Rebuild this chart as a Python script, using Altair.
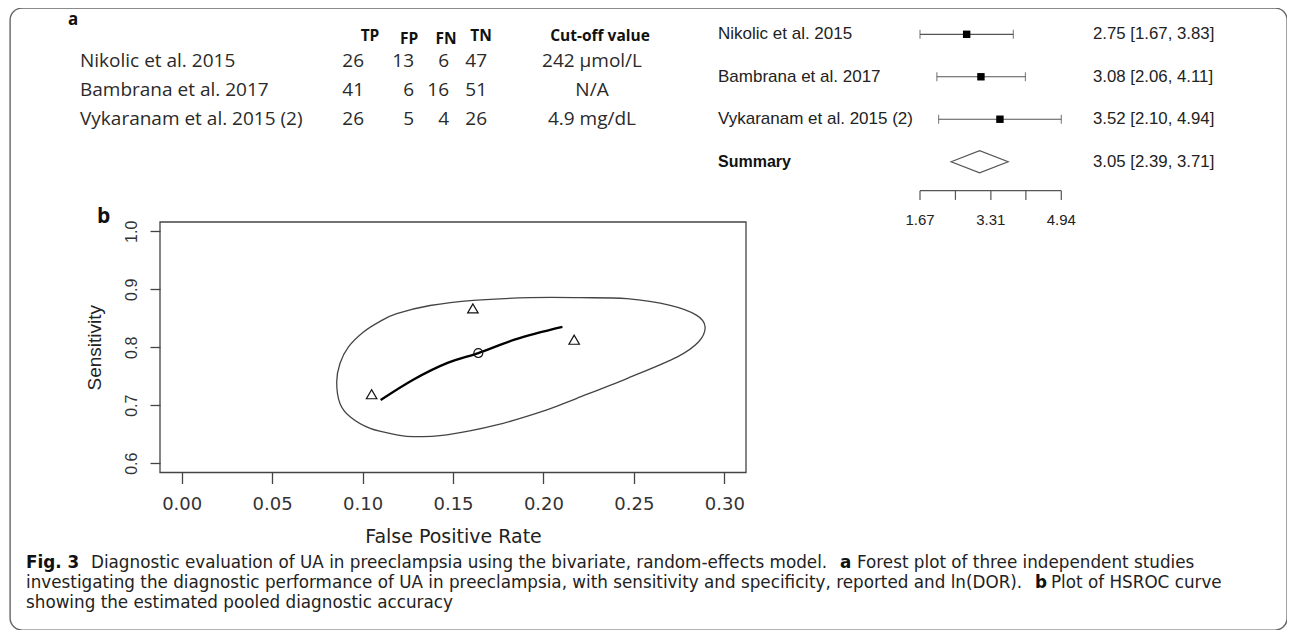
import altair as alt
import pandas as pd

# ---------------- data ----------------
studies = ["Nikolic et al. 2015", "Bambrana et al. 2017", "Vykaranam et al. 2015 (2)"]
tp = [26, 41, 26]
fp = [13, 6, 5]
fn = [6, 16, 4]
tn = [47, 51, 26]
cutoff = ["242 µmol/L", "N/A", "4.9 mg/dL"]

ln_dor = [2.75, 3.08, 3.52]
ln_dor_lo = [1.67, 2.06, 2.10]
ln_dor_hi = [3.83, 4.11, 4.94]
summary_est, summary_lo, summary_hi = 3.05, 2.39, 3.71
forest_ticks = [1.67, 2.49, 3.31, 4.12, 4.94]
forest_tick_labels = ["1.67", "", "3.31", "", "4.94"]

fpr_obs = [0.217, 0.105, 0.161]
sens_obs = [0.813, 0.719, 0.867]
summary_fpr, summary_sens = 0.164, 0.790
curve_fpr = [0.110, 0.128, 0.147, 0.164, 0.184, 0.2105]
curve_sens = [0.709, 0.744, 0.773, 0.790, 0.813, 0.835]
region_fpr = [0.0857, 0.0875, 0.0922, 0.1005, 0.1097, 0.1189, 0.1373, 0.1613, 0.1926,
              0.2203, 0.2461, 0.2701, 0.2848, 0.2894, 0.2857, 0.2738, 0.2461, 0.2185,
              0.2019, 0.1742, 0.1466, 0.1281, 0.1189, 0.1042, 0.0931, 0.0875]
region_sens = [0.740, 0.772, 0.8005, 0.8263, 0.8447, 0.858, 0.872, 0.881, 0.8855,
               0.8855, 0.8837, 0.8722, 0.855, 0.835, 0.809, 0.783, 0.746, 0.712,
               0.692, 0.666, 0.649, 0.6457, 0.649, 0.660, 0.680, 0.703]
x_ticks = [0.00, 0.05, 0.10, 0.15, 0.20, 0.25, 0.30]
y_ticks = [0.6, 0.7, 0.8, 0.9, 1.0]
x_lim = [-0.012, 0.312]
y_lim = [0.584, 1.016]

# ---------------- layout ----------------
OX, OY = 10, 8
W, H = 1277, 622
R_FONT = "Liberation Sans"
R_WIDE = "DejaVu Sans"
DOC_FONT = "Open Sans"
CAP_FONT = "DejaVu Sans"


def px(v):
    return v - OX


def py(v):
    return v - OY


def label(text, x, y, size, font=DOC_FONT, weight="normal", align="left", color="#222", angle=0):
    return alt.Chart(pd.DataFrame({"t": [text]})).mark_text(
        align=align, baseline="middle", font=font, fontSize=size, fontWeight=weight,
        color=color, angle=angle
    ).encode(text="t:N", x=alt.value(px(x)), y=alt.value(py(y)))


layers = []

# ---------- panel a: table ----------
layers.append(label("a", 68, 20, 17, weight="bold", color="#111"))
for h, xc, yc in [("TP", 370, 36), ("FP", 409, 39), ("FN", 446, 39), ("TN", 481, 36), ("Cut-off value", 600, 36)]:
    layers.append(label(h, xc, yc, 15.5, weight="bold", align="center", color="#111"))

tab = pd.DataFrame({"study": studies, "row": [1, 2, 3], "TP": tp, "FP": fp, "FN": fn, "TN": tn, "cut": cutoff})
ty = alt.Scale(domain=[1, 3], range=[py(61), py(119)], nice=False, zero=False)
base_tab = alt.Chart(tab)
TXT = dict(baseline="middle", font=DOC_FONT, fontSize=19, color="#2a2a2a")
layers.append(base_tab.mark_text(align="left", **TXT).encode(
    text="study:N", x=alt.value(px(80)), y=alt.Y("row:Q", scale=ty, axis=None)))
for col, xr in [("TP", 364), ("FP", 414), ("FN", 449), ("TN", 487)]:
    layers.append(base_tab.mark_text(align="right", **TXT).encode(
        text=f"{col}:N", x=alt.value(px(xr)), y=alt.Y("row:Q", scale=ty, axis=None)))
layers.append(base_tab.mark_text(align="center", **TXT).encode(
    text="cut:N", x=alt.value(px(592)), y=alt.Y("row:Q", scale=ty, axis=None)))

# ---------- forest plot ----------
fx = alt.Scale(domain=[1.67, 4.94], range=[px(920), px(1061.3)], nice=False, zero=False)
fy = alt.Scale(domain=[1, 4], range=[py(34.3), py(161.7)], nice=False, zero=False)
forest = pd.DataFrame({
    "name": studies, "row": [1, 2, 3], "est": ln_dor, "lo": ln_dor_lo, "hi": ln_dor_hi,
})
forest["txt"] = [f"{e:.2f} [{l:.2f}, {h:.2f}]" for e, l, h in zip(ln_dor, ln_dor_lo, ln_dor_hi)]
summ = pd.DataFrame({"name": ["Summary"], "row": [4],
                     "txt": [f"{summary_est:.2f} [{summary_lo:.2f}, {summary_hi:.2f}]"]})
fb = alt.Chart(forest)
X_F = lambda f: alt.X(f, scale=fx, axis=None)
Y_F = alt.Y("row:Q", scale=fy, axis=None)

layers.append(fb.mark_text(align="left", baseline="middle", font=R_FONT, fontSize=17, color="#222").encode(
    text="name:N", x=alt.value(px(718)), y=Y_F))
layers.append(alt.Chart(summ).mark_text(align="left", baseline="middle", font=R_FONT, fontSize=16,
                                        fontWeight="bold", color="#111").encode(
    text="name:N", x=alt.value(px(718)), y=Y_F))
VAL = dict(align="left", baseline="middle", font=R_FONT, fontSize=16.8, color="#222")
layers.append(fb.mark_text(**VAL).encode(text="txt:N", x=alt.value(px(1093)), y=Y_F))
layers.append(alt.Chart(summ).mark_text(**VAL).encode(text="txt:N", x=alt.value(px(1093)), y=Y_F))
layers.append(fb.mark_rule(color="#555", strokeWidth=1.2).encode(x=X_F("lo:Q"), x2="hi:Q", y=Y_F))
layers.append(fb.mark_tick(orient="vertical", size=9, thickness=1.2, color="#555").encode(x=X_F("lo:Q"), y=Y_F))
layers.append(fb.mark_tick(orient="vertical", size=9, thickness=1.2, color="#555").encode(x=X_F("hi:Q"), y=Y_F))
layers.append(fb.mark_square(size=55, color="#000", opacity=1).encode(x=X_F("est:Q"), y=Y_F))

diamond_half = 0.26
diamond = pd.DataFrame({
    "x": [summary_lo, summary_est, summary_hi, summary_est],
    "row": [4, 4 - diamond_half, 4, 4 + diamond_half],
    "o": [0, 1, 2, 3],
})
layers.append(alt.Chart(diamond).mark_line(color="#555", strokeWidth=1.2, interpolate="linear-closed").encode(
    x=X_F("x:Q"), y=Y_F, order="o:Q"))

axis_row, tick_row, lab_row = 4.683, 4.90, 5.37
fax = pd.DataFrame({"x": forest_ticks, "lab": forest_tick_labels})
layers.append(alt.Chart(pd.DataFrame({"a": [forest_ticks[0]], "b": [forest_ticks[-1]], "row": [axis_row]}))
              .mark_rule(color="#555", strokeWidth=1.2).encode(x=X_F("a:Q"), x2="b:Q", y=Y_F))
layers.append(alt.Chart(fax.assign(r1=axis_row, r2=tick_row)).mark_rule(color="#555", strokeWidth=1.2).encode(
    x=X_F("x:Q"), y=alt.Y("r1:Q", scale=fy, axis=None), y2="r2:Q"))
layers.append(alt.Chart(fax.assign(r=lab_row)).mark_text(align="center", baseline="middle", font=R_FONT,
                                                          fontSize=15, color="#222").encode(
    x=X_F("x:Q"), y=alt.Y("r:Q", scale=fy, axis=None), text="lab:N"))

# ---------- panel b: HSROC ----------
hx = alt.Scale(domain=x_lim, range=[px(160), px(746)], nice=False, zero=False)
hy = alt.Scale(domain=y_lim, range=[py(472.5), py(222)], nice=False, zero=False)
XH = lambda f: alt.X(f, scale=hx, axis=None)
YH = lambda f: alt.Y(f, scale=hy, axis=None)

box = pd.DataFrame({"x": [x_lim[0]], "x2": [x_lim[1]], "y": [y_lim[0]], "y2": [y_lim[1]]})
layers.append(alt.Chart(box).mark_rect(fillOpacity=0, stroke="#444", strokeWidth=1.3).encode(
    x=alt.X("x:Q", scale=hx, axis=alt.Axis(
        orient="bottom", offset=py(472.5) - H, values=x_ticks, format=".2f", domain=False, grid=False,
        tickSize=11, tickColor="#444", tickWidth=1.3, labelFont=R_WIDE, labelFontSize=18,
        labelColor="#333", labelPadding=12, labelFlush=False, labelOverlap=False,
        title="False Positive Rate", titleFont=R_WIDE, titleFontSize=19, titleFontWeight="normal",
        titleColor="#222", titlePadding=14)),
    x2="x2:Q",
    y=alt.Y("y:Q", scale=hy, axis=alt.Axis(
        orient="left", offset=-px(160), values=y_ticks, format=".1f", domain=False, grid=False,
        tickSize=10, tickColor="#444", tickWidth=1.3, labelFont=R_FONT, labelFontSize=16,
        labelColor="#333", labelAngle=-90, labelAlign="center", labelBaseline="bottom",
        labelPadding=11, labelFlush=False, labelOverlap=False,
        title="Sensitivity", titleFont=R_FONT, titleFontSize=19, titleFontWeight="normal",
        titleColor="#222", titlePadding=19)),
    y2="y2:Q",
))

region = pd.DataFrame({"fpr": region_fpr, "sens": region_sens, "o": list(range(len(region_fpr)))})
layers.append(alt.Chart(region).mark_line(color="#444", strokeWidth=1.3, interpolate="cardinal-closed").encode(
    x=XH("fpr:Q"), y=YH("sens:Q"), order="o:Q"))
curve = pd.DataFrame({"fpr": curve_fpr, "sens": curve_sens})
layers.append(alt.Chart(curve).mark_line(color="#000", strokeWidth=2.3, interpolate="monotone").encode(
    x=XH("fpr:Q"), y=YH("sens:Q")))
obs = pd.DataFrame({"fpr": fpr_obs, "sens": sens_obs})
layers.append(alt.Chart(obs).mark_point(shape="triangle-up", filled=False, size=110, color="#111",
                                        strokeWidth=1.2, opacity=1).encode(x=XH("fpr:Q"), y=YH("sens:Q")))
summ_pt = pd.DataFrame({"fpr": [summary_fpr], "sens": [summary_sens]})
layers.append(alt.Chart(summ_pt).mark_point(shape="circle", filled=False, size=80, color="#111",
                                            strokeWidth=1.2, opacity=1).encode(x=XH("fpr:Q"), y=YH("sens:Q")))
layers.append(label("b", 97, 217, 21, weight="bold", color="#111"))

# ---------- caption ----------
CS = 16.8
L1, L2, L3 = 563, 583, 603
layers.append(label("Fig. 3", 26, L1, CS, font=CAP_FONT, weight="bold", color="#111"))
layers.append(label("Diagnostic evaluation of UA in preeclampsia using the bivariate, random-effects model.", 91, L1, CS, font=CAP_FONT))
layers.append(label("a", 840, L1, CS, font=CAP_FONT, weight="bold", color="#111"))
layers.append(label("Forest plot of three independent studies", 857, L1, CS, font=CAP_FONT))
layers.append(label("investigating the diagnostic performance of UA in preeclampsia, with sensitivity and specificity, reported and ln(DOR).", 26, L2, CS, font=CAP_FONT))
layers.append(label("b", 1035, L2, CS, font=CAP_FONT, weight="bold", color="#111"))
layers.append(label("Plot of HSROC curve", 1051, L2, CS, font=CAP_FONT))
layers.append(label("showing the estimated pooled diagnostic accuracy", 26, L3, CS, font=CAP_FONT))

chart = alt.layer(*layers).resolve_scale(x="independent", y="independent").resolve_axis(
    x="independent", y="independent"
).properties(
    width=W, height=H,
    autosize=alt.AutoSizeParams(type="none"),
    padding={"left": OX - 8, "top": OY - 8, "right": 0, "bottom": 0},
    background="white",
).configure_view(stroke="#666", strokeWidth=1.4, cornerRadius=12)

chart.save("out.html", embed_options={"renderer": "svg", "actions": False})
